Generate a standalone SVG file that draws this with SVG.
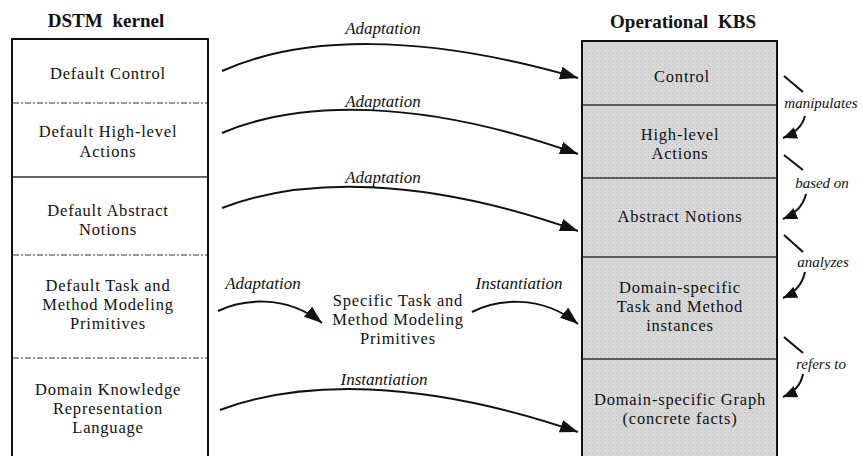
<svg xmlns="http://www.w3.org/2000/svg" width="862" height="456" viewBox="0 0 862 456">
  <style>
    .t { font-family: "Liberation Serif", "Times New Roman", serif; font-size: 16.5px; letter-spacing: 0.8px; fill: #111; text-anchor: middle; }
    .title { font-family: "Liberation Serif", "Times New Roman", serif; font-size: 19px; font-weight: bold; fill: #111; text-anchor: middle; word-spacing: 5px; }
    .lbl { font-family: "Liberation Serif", "Times New Roman", serif; font-size: 17px; font-style: italic; fill: #111; text-anchor: middle; }
    .rel { font-family: "Liberation Serif", "Times New Roman", serif; font-size: 15px; font-style: italic; fill: #111; text-anchor: middle; }
    .frame { fill: #fff; stroke: #111; stroke-width: 2; }
    .shaded { stroke: #111; stroke-width: 2; }
    .dash { stroke: #777; stroke-width: 1.3; stroke-dasharray: 6 2 2 2; }
    .solid { stroke: #333; stroke-width: 1.5; }
    .arr { fill: none; stroke: #111; stroke-width: 2; marker-end: url(#head); }
    .sarr { fill: none; stroke: #111; stroke-width: 2; marker-end: url(#shead); }
    .tick { stroke: #111; stroke-width: 2; }
  </style>
  <defs>
    <marker id="head" markerUnits="userSpaceOnUse" markerWidth="19" markerHeight="13" refX="18" refY="6.5" orient="auto">
      <path d="M0,0 L18,6.5 L0,13 z" fill="#111"/>
    </marker>
    <marker id="shead" markerUnits="userSpaceOnUse" markerWidth="15" markerHeight="12" refX="14" refY="6" orient="auto">
      <path d="M0,0 L14,6 L0,12 z" fill="#111"/>
    </marker>
    <pattern id="grain" width="4" height="4" patternUnits="userSpaceOnUse">
      <rect width="4" height="4" fill="#d8d8d8"/>
      <rect x="0" y="0" width="1" height="1" fill="#bdbdbd"/>
      <rect x="2" y="2" width="1" height="1" fill="#c4c4c4"/>
    </pattern>
  </defs>

  <rect width="862" height="456" fill="#fff"/>

  <!-- Left column: DSTM kernel -->
  <g id="dstm-kernel">
    <text class="title" x="106" y="27">DSTM kernel</text>
    <rect class="frame" x="12" y="39" width="196" height="430"/>
    <line class="dash" x1="13" y1="103" x2="207" y2="103"/>
    <line class="solid" x1="13" y1="177" x2="207" y2="177"/>
    <line class="dash" x1="13" y1="255" x2="207" y2="255"/>
    <line class="dash" x1="13" y1="358" x2="207" y2="358"/>
  </g>
  <g id="default-control">
    <text class="t" x="108" y="79">Default Control</text>
  </g>
  <g id="default-high-level-actions">
    <text class="t" x="108" y="137">Default High-level</text>
    <text class="t" x="108" y="157">Actions</text>
  </g>
  <g id="default-abstract-notions">
    <text class="t" x="108" y="216">Default Abstract</text>
    <text class="t" x="108" y="235">Notions</text>
  </g>
  <g id="default-primitives">
    <text class="t" x="108" y="291">Default Task and</text>
    <text class="t" x="108" y="310">Method Modeling</text>
    <text class="t" x="108" y="329">Primitives</text>
  </g>
  <g id="dkrl">
    <text class="t" x="108" y="395">Domain Knowledge</text>
    <text class="t" x="108" y="414">Representation</text>
    <text class="t" x="108" y="433">Language</text>
  </g>

  <!-- Intermediate node -->
  <g id="specific-primitives">
    <text class="t" x="398" y="306">Specific Task and</text>
    <text class="t" x="398" y="325">Method Modeling</text>
    <text class="t" x="398" y="344">Primitives</text>
  </g>

  <!-- Right column: Operational KBS -->
  <g id="operational-kbs">
    <text class="title" x="683" y="28">Operational KBS</text>
    <rect class="shaded" x="582" y="41" width="195" height="430" fill="url(#grain)"/>
    <line class="solid" x1="583" y1="105" x2="776" y2="105"/>
    <line class="solid" x1="583" y1="178" x2="776" y2="178"/>
    <line class="solid" x1="583" y1="257" x2="776" y2="257"/>
    <line class="solid" x1="583" y1="359" x2="776" y2="359"/>
  </g>
  <g id="control">
    <text class="t" x="682" y="82">Control</text>
  </g>
  <g id="high-level-actions">
    <text class="t" x="680" y="140">High-level</text>
    <text class="t" x="680" y="159">Actions</text>
  </g>
  <g id="abstract-notions">
    <text class="t" x="680" y="222">Abstract Notions</text>
  </g>
  <g id="task-method-instances">
    <text class="t" x="680" y="293">Domain-specific</text>
    <text class="t" x="680" y="312">Task and Method</text>
    <text class="t" x="680" y="331">instances</text>
  </g>
  <g id="domain-graph">
    <text class="t" x="680" y="405">Domain-specific Graph</text>
    <text class="t" x="680" y="424">(concrete facts)</text>
  </g>

  <!-- Connectors -->
  <g id="connectors">
    <path class="arr" d="M222,71 C300,36 420,32 578,78"/>
    <text class="lbl" x="383" y="34">Adaptation</text>

    <path class="arr" d="M222,133 C300,100 420,98 578,154"/>
    <text class="lbl" x="383" y="107">Adaptation</text>

    <path class="arr" d="M222,208 C300,178 420,175 578,231"/>
    <text class="lbl" x="383" y="183">Adaptation</text>

    <path class="arr" d="M218,311 C240,300 285,293 322,323"/>
    <text class="lbl" x="263" y="289">Adaptation</text>

    <path class="arr" d="M472,312 C495,300 540,293 578,324"/>
    <text class="lbl" x="519" y="289">Instantiation</text>

    <path class="arr" d="M220,410 C300,380 420,378 578,432"/>
    <text class="lbl" x="384" y="385">Instantiation</text>

    <!-- relations along the operational KBS -->
    <line class="tick" x1="784" y1="76" x2="803" y2="92"/>
    <text class="rel" x="821" y="108">manipulates</text>
    <path class="sarr" d="M805,116 Q801,131 783,138"/>

    <line class="tick" x1="784" y1="155" x2="803" y2="170"/>
    <text class="rel" x="822" y="188">based on</text>
    <path class="sarr" d="M806,194 Q802,211 783,219"/>

    <line class="tick" x1="784" y1="235" x2="803" y2="252"/>
    <text class="rel" x="823" y="267">analyzes</text>
    <path class="sarr" d="M805,272 Q801,290 783,298"/>

    <line class="tick" x1="784" y1="337" x2="803" y2="353"/>
    <text class="rel" x="821" y="369">refers to</text>
    <path class="sarr" d="M803,374 Q800,390 783,397"/>
  </g>
</svg>
